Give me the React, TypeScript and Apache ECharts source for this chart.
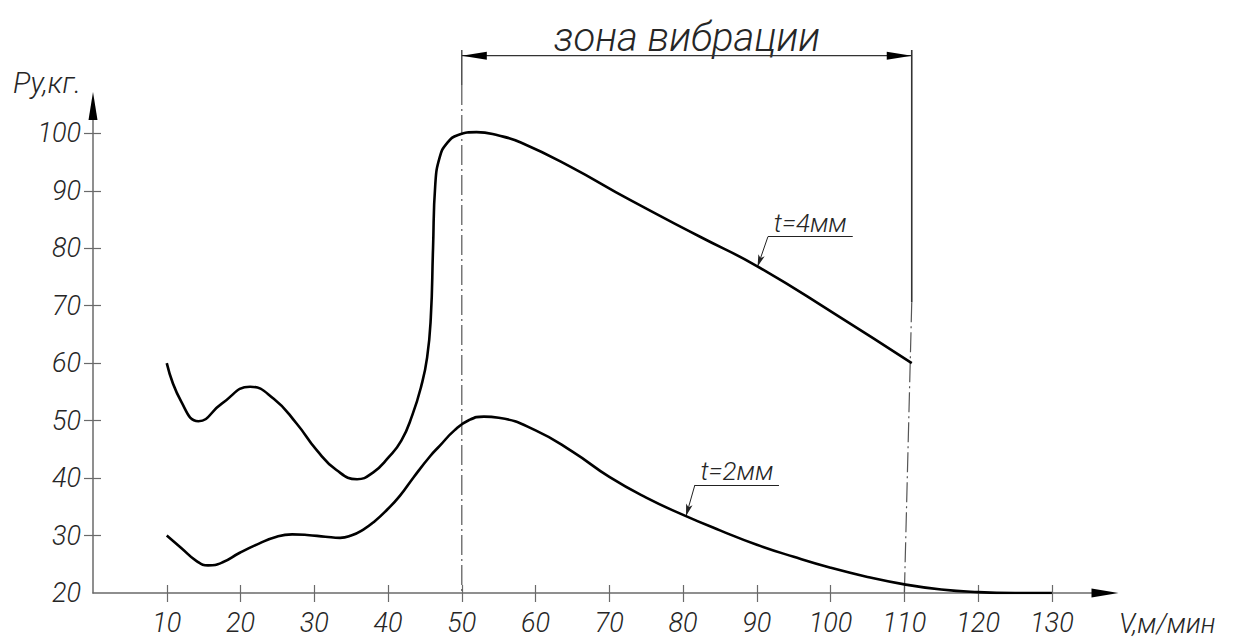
import React, { useEffect, useRef } from 'react';
import * as echarts from 'echarts';

// axis ticks / labels
const xTicks = [10, 20, 30, 40, 50, 60, 70, 80, 90, 100, 110, 120, 130];
const yLabels = [20, 30, 40, 50, 60, 70, 80, 90, 100];
const yTicks = [30, 40, 50, 60, 70, 80, 90, 100];

// curve t = 4 mm : speed V (m/min) and force Py (kg)
const t4V = [10, 12, 14.3, 17.5, 21.3, 24.5, 27.6, 30.3, 33, 35.8, 38, 40, 41.8, 43.3, 44.5, 45.3, 45.8, 46.1, 46.4, 47, 48, 49.5, 52, 55, 58, 64.7, 72.8, 82.3, 90, 100.4, 111];
const t4P = [60, 53.2, 49.9, 53, 55.9, 53.8, 49.5, 44.9, 41.4, 39.8, 41, 43.5, 46.5, 51, 56, 61, 68, 80, 91, 95.8, 98.3, 99.7, 100.2, 99.6, 98.4, 94.2, 88.4, 82, 76.9, 68.7, 60];

// curve t = 2 mm
const t2V = [10, 12, 14, 15.6, 17.5, 19.9, 22.5, 24.9, 27, 29, 31.5, 33.5, 35, 36.6, 38.2, 39.8, 41.6, 43.5, 45.7, 47, 49, 51, 53, 55, 60, 65, 70, 75, 80, 85, 90, 95, 100, 105, 110, 115, 120, 125, 130];
const t2P = [30, 27.8, 25.6, 24.8, 25.3, 27, 28.6, 29.8, 30.2, 30.1, 29.8, 29.6, 30, 31, 32.5, 34.4, 36.9, 40.2, 43.8, 45.6, 48.3, 50.1, 50.7, 50.5, 48.3, 44.6, 40.2, 36.6, 33.6, 30.9, 28.4, 26.3, 24.4, 22.8, 21.5, 20.6, 20.15, 20, 20];

// vibration zone
const zoneStart = 50;
const zoneEnd = 111;
const zoneEndBottom = 110;
const zoneTop = 114.5;
const zoneDim = 113.5;
const zoneSolidLeft = 108.4;
const zoneSolidRight = 70.6;

// callouts
const t4Callout = { x0: 91.5, x1: 103, y: 82, tipX: 90.1, tipY: 76.8 };
const t2Callout = { x0: 81.6, x1: 93, y: 38.8, tipX: 80.4, tipY: 33.4 };

const FONT = "Roboto, 'Liberation Sans', sans-serif";
const TXT = '#262626';
const AXIS = '#6a6a6a';

const pairs = (a: number[], b: number[]) => a.map((v, i) => [v, b[i]]);

function callout(c: typeof t4Callout, text: string) {
  return [
    [
      {
        coord: [c.x0, c.y],
        symbol: 'none',
        label: {
          show: true,
          position: 'insideMiddleTop',
          formatter: text,
          fontFamily: FONT,
          fontStyle: 'italic',
          fontWeight: 300,
          fontSize: 26,
          color: TXT,
          distance: 1,
        },
      },
      { coord: [c.x1, c.y], symbol: 'none' },
    ],
    [
      { coord: [c.x0, c.y], symbol: 'none' },
      { coord: [c.tipX, c.tipY], symbol: 'arrow', symbolSize: [5, 12] },
    ],
  ];
}

function markLineOf(c: typeof t4Callout, text: string) {
  return {
    silent: true,
    animation: false,
    symbol: ['none', 'none'],
    lineStyle: { color: '#222', width: 1, type: 'solid' },
    label: { show: false },
    emphasis: { disabled: true },
    data: callout(c, text),
  };
}

export default function App() {
  const ref = useRef<HTMLDivElement>(null);
  useEffect(() => {
    const chart = echarts.init(ref.current!, null, { renderer: 'svg' });
    const axisLabelStyle = {
      fontFamily: FONT,
      fontStyle: 'italic',
      fontWeight: 300,
      fontSize: 27,
      color: TXT,
    };
    const option: any = {
      animation: false,
      backgroundColor: '#fff',
      grid: { left: 93, right: 140, top: 106, bottom: 46 },
      xAxis: [
        {
          type: 'value',
          min: 0,
          max: 137.2,
          interval: 10,
          position: 'bottom',
          axisLine: { show: true, onZero: false, lineStyle: { color: AXIS, width: 1.5 } },
          axisTick: { show: true, inside: false, length: 9, customValues: xTicks, lineStyle: { color: AXIS, width: 1.2 } },
          axisLabel: { show: true, margin: 16, customValues: xTicks, ...axisLabelStyle },
          splitLine: { show: false },
        },
        {
          type: 'value',
          min: 0,
          max: 137.2,
          interval: 10,
          position: 'bottom',
          axisLine: {
            show: true,
            onZero: false,
            symbol: ['none', 'triangle'],
            symbolSize: [9, 27],
            lineStyle: { color: '#000', width: 0 },
          },
          axisTick: { show: true, inside: true, length: 8, customValues: xTicks, lineStyle: { color: AXIS, width: 1.2 } },
          axisLabel: { show: false },
          splitLine: { show: false },
        },
      ],
      yAxis: [
        {
          type: 'value',
          min: 20,
          max: 104.75,
          interval: 10,
          position: 'left',
          axisLine: { show: true, onZero: false, lineStyle: { color: AXIS, width: 1.5 } },
          axisTick: { show: true, inside: false, length: 9, customValues: yTicks, lineStyle: { color: AXIS, width: 1.2 } },
          axisLabel: { show: true, margin: 12, customValues: yLabels, ...axisLabelStyle },
          splitLine: { show: false },
        },
        {
          type: 'value',
          min: 20,
          max: 104.75,
          interval: 10,
          position: 'left',
          axisLine: {
            show: true,
            onZero: false,
            symbol: ['none', 'triangle'],
            symbolSize: [9, 28],
            lineStyle: { color: '#000', width: 0 },
          },
          axisTick: { show: true, inside: true, length: 8, customValues: yTicks, lineStyle: { color: AXIS, width: 1.2 } },
          axisLabel: { show: false },
          splitLine: { show: false },
        },
      ],
      graphic: [
        {
          type: 'text',
          x: 13,
          y: 83,
          silent: true,
          style: {
            text: 'Py,кг.',
            fontFamily: FONT,
            fontStyle: 'italic',
            fontWeight: 300,
            fontSize: 29,
            fill: TXT,
            align: 'left',
            verticalAlign: 'middle',
          },
        },
        {
          type: 'text',
          x: 1119,
          y: 624,
          silent: true,
          style: {
            text: 'V,м/мин',
            fontFamily: FONT,
            fontStyle: 'italic',
            fontWeight: 300,
            fontSize: 27,
            fill: TXT,
            align: 'left',
            verticalAlign: 'middle',
          },
        },
        {
          type: 'text',
          x: 687,
          y: 37,
          silent: true,
          style: {
            text: 'зона вибрации',
            fontFamily: FONT,
            fontStyle: 'italic',
            fontWeight: 300,
            fontSize: 40,
            fill: TXT,
            align: 'center',
            verticalAlign: 'middle',
          },
        },
      ],
      series: [
        {
          name: 't=4мм',
          type: 'line',
          data: pairs(t4V, t4P),
          smooth: 0.5,
          symbol: 'none',
          lineStyle: { color: '#000', width: 2.6 },
          silent: true,
          z: 5,
          markLine: markLineOf(t4Callout, 't=4мм'),
        },
        {
          name: 't=2мм',
          type: 'line',
          data: pairs(t2V, t2P),
          smooth: 0.5,
          symbol: 'none',
          lineStyle: { color: '#000', width: 2.6 },
          silent: true,
          z: 5,
          markLine: markLineOf(t2Callout, 't=2мм'),
        },
        // zone boundary lines (solid tops)
        {
          type: 'line',
          data: [[zoneStart, zoneTop], [zoneStart, zoneSolidLeft]],
          symbol: 'none',
          clip: false,
          silent: true,
          lineStyle: { color: '#333', width: 1.3 },
        },
        {
          type: 'line',
          data: [[zoneEnd, zoneTop], [zoneEnd, zoneSolidRight]],
          symbol: 'none',
          clip: false,
          silent: true,
          lineStyle: { color: '#333', width: 1.6 },
        },
        // zone boundary lines (dash-dot)
        {
          type: 'line',
          data: [[zoneStart, zoneSolidLeft], [zoneStart, 20]],
          symbol: 'none',
          clip: false,
          silent: true,
          lineStyle: { color: '#555', width: 1.2, type: [20, 4, 2, 4] },
        },
        {
          type: 'line',
          data: [[zoneEnd, zoneSolidRight], [zoneEndBottom, 20]],
          symbol: 'none',
          clip: false,
          silent: true,
          lineStyle: { color: '#555', width: 1.2, type: [20, 4, 2, 4] },
        },
        // dimension line with arrows
        {
          type: 'line',
          clip: false,
          silent: true,
          symbol: 'none',
          showSymbol: true,
          itemStyle: { color: '#000' },
          lineStyle: { color: '#333', width: 1.2 },
          data: [
            { value: [zoneStart, zoneDim], symbol: 'triangle', symbolSize: [8, 25], symbolRotate: 90, symbolOffset: [12.5, 0] },
            { value: [zoneEnd, zoneDim], symbol: 'triangle', symbolSize: [8, 25], symbolRotate: -90, symbolOffset: [-12.5, 0] },
          ],
        },
      ],
    };
    chart.setOption(option);
    return () => chart.dispose();
  }, []);
  return (
    <div
      ref={ref}
      style={{ position: 'fixed', left: 0, top: 0, width: 1245, height: 639, background: '#fff' }}
    />
  );
}
